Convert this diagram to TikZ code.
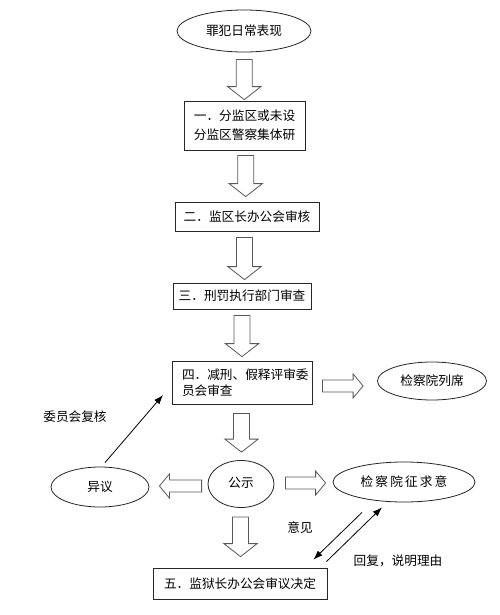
\documentclass[tikz,border=0pt]{standalone}
\usepackage{fontspec}
\setmainfont{Noto Sans CJK SC}
\usetikzlibrary{shapes.geometric,arrows.meta,calc}
\newcommand\fz{\fontsize{9.5pt}{12pt}\selectfont}
\tikzset{
 box/.style={draw=black!85,line width=0.6pt,fill=white,inner sep=0pt,font=\fz,align=center},
 oval/.style={draw=black!85,line width=0.6pt,ellipse,inner sep=0pt,font=\fz},
 blk/.style={draw=black!65,line width=0.6pt,fill=white},
 tarrow/.style={line width=0.6pt,-{Latex[length=7pt,width=5pt]}},
 lbl/.style={font=\fz,inner sep=0pt}
}
% vertical block arrow from node #1 (south) to node #2 (north), gaps #3/#4
\newcommand\vbar[4]{\draw[blk] let \p1=(#1.south), \p2=(#2.north) in
 ({(\x1+\x2)/2-6pt},{\y1-#3}) -- ({(\x1+\x2)/2+6pt},{\y1-#3}) --
 ({(\x1+\x2)/2+6pt},{\y2+#4+9.75pt}) -- ({(\x1+\x2)/2+12.5pt},{\y2+#4+9.75pt}) --
 ({(\x1+\x2)/2},{\y2+#4}) --
 ({(\x1+\x2)/2-12.5pt},{\y2+#4+9.75pt}) -- ({(\x1+\x2)/2-6pt},{\y2+#4+9.75pt}) -- cycle;}
% right block arrow
\newcommand\rbar[5]{\draw[blk] let \p1=(#1.east), \p2=(#2.west) in
 ({\x1+#3},{\y1+(#5)-4.5pt}) -- ({\x2-#4-7.5pt},{\y1+(#5)-4.5pt}) --
 ({\x2-#4-7.5pt},{\y1+(#5)-9pt}) -- ({\x2-#4},{\y1+(#5)}) --
 ({\x2-#4-7.5pt},{\y1+(#5)+9pt}) -- ({\x2-#4-7.5pt},{\y1+(#5)+4.5pt}) --
 ({\x1+#3},{\y1+(#5)+4.5pt}) -- cycle;}
% left block arrow
\newcommand\lbar[5]{\draw[blk] let \p1=(#1.west), \p2=(#2.east) in
 ({\x1-#3},{\y1+(#5)-4.5pt}) -- ({\x2+#4+7.5pt},{\y1+(#5)-4.5pt}) --
 ({\x2+#4+7.5pt},{\y1+(#5)-9pt}) -- ({\x2+#4},{\y1+(#5)}) --
 ({\x2+#4+7.5pt},{\y1+(#5)+9pt}) -- ({\x2+#4+7.5pt},{\y1+(#5)+4.5pt}) --
 ({\x1-#3},{\y1+(#5)+4.5pt}) -- cycle;}
\begin{document}
\begin{tikzpicture}[x=0.75pt,y=-0.75pt]
\fill[white] (0,0) rectangle (500,615);
\useasboundingbox (0,0) rectangle (500,615);

\node[oval,minimum width=100.5pt,minimum height=31.5pt] (top) at (244,31) {罪犯日常表现};
\node[box,minimum width=90.75pt,minimum height=36.75pt,font=\fontsize{9.5pt}{14.5pt}\selectfont] (b1) at (244.5,125.5) {一．分监区或未设\\分监区警察集体研};
\node[box,minimum width=108pt,minimum height=21.75pt] (b2) at (247,216.5) {二．监区长办公会审核};
\node[box,minimum width=103.5pt,minimum height=19.5pt] (b3) at (242,296) {三．刑罚执行部门审查};
\node[box,minimum width=105pt,minimum height=32.25pt,align=left,font=\fontsize{9.5pt}{12.4pt}\selectfont] (b4) at (242,382.5) {\hspace*{5pt}四．减刑、假释评审委\\\hspace*{5pt}员会审查};
\node[oval,minimum width=81.75pt,minimum height=28.5pt] (jcl) at (432,381) {检察院列席};
\node[oval,minimum width=49.5pt,minimum height=35.25pt] (gs) at (241,484) {\raisebox{2.5pt}{公示}};
\node[oval,minimum width=73.5pt,minimum height=30pt] (yy) at (100,487) {异议};
\node[oval,minimum width=106.5pt,minimum height=30pt] (jzq) at (404,482) {检\kern1.6pt 察\kern1.6pt 院\kern1.6pt 征\kern1.6pt 求\kern1.6pt 意};
\node[box,minimum width=130.5pt,minimum height=23.25pt] (b5) at (240,583.5) {五．监狱长办公会审议决定};

\node[lbl] (l1) at (75,417) {委员会复核};
\node[lbl] (l2) at (300,528) {意见};
\node[lbl] (l3) at (398,561) {回复，说明理由};

\vbar{top}{b1}{5.25pt}{0.75pt}
\vbar{b1}{b2}{3.75pt}{3.75pt}
\vbar{b2}{b3}{4.5pt}{2.25pt}
\vbar{b3}{b4}{4.5pt}{3pt}
\vbar{b4}{gs}{6.75pt}{6pt}
\vbar{gs}{b5}{6.75pt}{8.25pt}
\rbar{b4}{jcl}{7.5pt}{10.5pt}{-2.6pt}
\lbar{gs}{yy}{4.5pt}{7.5pt}{-1.5pt}
\rbar{gs}{jzq}{8.25pt}{5.25pt}{0.75pt}

\coordinate (fb) at (163,395);
\draw[tarrow] ([shift={(5,-4)}]yy.north) -- (fb);
\draw[tarrow] ([shift={(-42,10)}]jzq.south) -- ([shift={(-14,-8)}]b5.north east);
\draw[tarrow] ([shift={(-1,-6)}]b5.north east) -- ([shift={(-22,5)}]jzq.south);
\end{tikzpicture}
\end{document}
